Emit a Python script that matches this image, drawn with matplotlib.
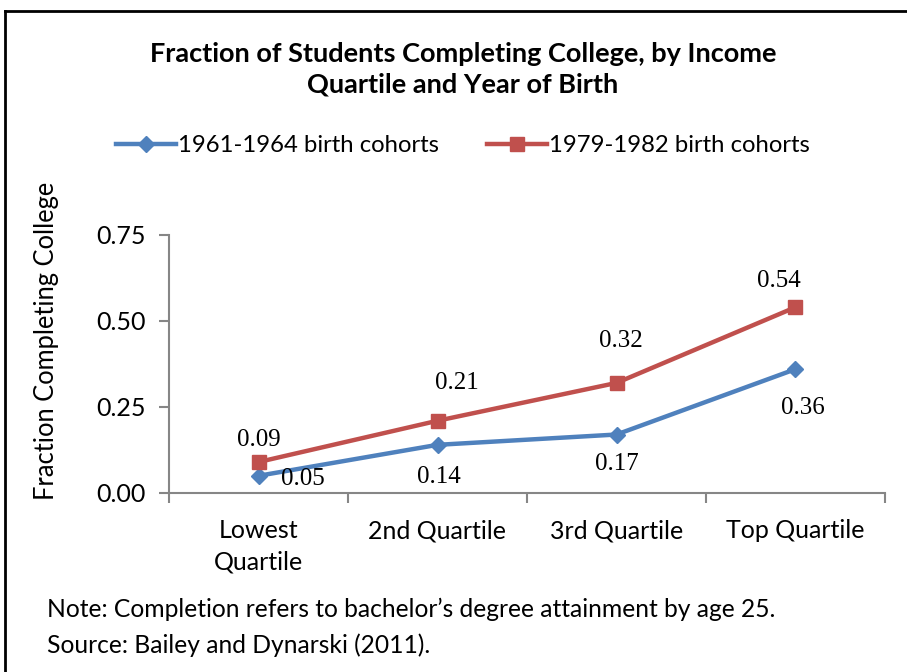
import matplotlib.pyplot as plt
from matplotlib.lines import Line2D

plt.rcParams["font.family"] = ["Lato", "DejaVu Sans"]

quartiles = ["Lowest\nQuartile", "2nd Quartile", "3rd Quartile", "Top Quartile"]
cohort_1961 = [0.05, 0.14, 0.17, 0.36]
cohort_1979 = [0.09, 0.21, 0.32, 0.54]
yticks = [0.00, 0.25, 0.50, 0.75]

blue = "#4F81BD"
red = "#C0504D"
gray = "#868686"

fig = plt.figure(figsize=(9.07, 6.72), dpi=100)
ax = fig.add_axes([169 / 907, 1 - 493 / 672, 716 / 907, 258 / 672])

x = list(range(len(quartiles)))
ax.plot(x, cohort_1961, color=blue, lw=3.2, marker="D", ms=8.5,
        label="1961-1964 birth cohorts")
ax.plot(x, cohort_1979, color=red, lw=3.2, marker="s", ms=9.5,
        label="1979-1982 birth cohorts")

# label offsets in points (hand placed like the original)
off_1961 = [(32, -2), (1, -23), (0, -21), (5, -28)]
off_1979 = [(0, 16), (14, 27), (3, 30), (-12, 19)]
for i in x:
    ax.annotate(f"{cohort_1961[i]:.2f}", (i, cohort_1961[i]), xytext=off_1961[i],
                textcoords="offset points", ha="center", va="center",
                fontsize=18, family="Liberation Serif")
    ax.annotate(f"{cohort_1979[i]:.2f}", (i, cohort_1979[i]), xytext=off_1979[i],
                textcoords="offset points", ha="center", va="center",
                fontsize=18, family="Liberation Serif")

ax.set_xlim(-0.5, len(quartiles) - 0.5)
ax.set_ylim(0, 0.75)
ax.set_yticks(yticks)
ax.set_yticklabels([f"{v:.2f}" for v in yticks], fontsize=18)
ax.set_xticks([i + 0.5 for i in range(-1, len(quartiles))], minor=False)
ax.set_xticklabels([])
ax.set_xticks(x, minor=True)
ax.set_xticklabels(quartiles, minor=True, fontsize=18, linespacing=1.45)
ax.tick_params(axis="x", which="minor", length=0, pad=19)
ax.tick_params(axis="x", which="major", length=7, color=gray, width=1.5)
ax.tick_params(axis="y", length=7, color=gray, width=1.5, pad=10)
for s in ["top", "right"]:
    ax.spines[s].set_visible(False)
for s in ["left", "bottom"]:
    ax.spines[s].set_color(gray)
    ax.spines[s].set_linewidth(1.5)

fig.text(463 / 907, 1 - 69 / 672,
         "Fraction of Students Completing College, by Income\nQuartile and Year of Birth",
         ha="center", va="center", fontsize=19.5, fontweight="bold", linespacing=1.35)
fig.text(47 / 907, 1 - 341 / 672, "Fraction Completing College", rotation=90,
         ha="center", va="center", fontsize=18.4)
fig.legend(loc="center", bbox_to_anchor=(463 / 907, 1 - 146 / 672), ncol=2,
           frameon=False, fontsize=17.2, handlelength=2.5, handletextpad=0.1,
           columnspacing=2.0)
fig.text(47 / 907, 1 - 609 / 672,
         "Note: Completion refers to bachelor\u2019s degree attainment by age 25.",
         ha="left", va="center", fontsize=17.7)
fig.text(47 / 907, 1 - 645 / 672, "Source: Bailey and Dynarski (2011).",
         ha="left", va="center", fontsize=17.7)

# frame of the original box (cropped at right and bottom)
fig.add_artist(Line2D([5 / 907, 5 / 907], [0, 1 - 11 / 672], transform=fig.transFigure,
                      color="black", lw=2))
fig.add_artist(Line2D([5 / 907, 1], [1 - 11 / 672, 1 - 11 / 672], transform=fig.transFigure,
                      color="black", lw=2))

fig.savefig("out.png", dpi=100)
